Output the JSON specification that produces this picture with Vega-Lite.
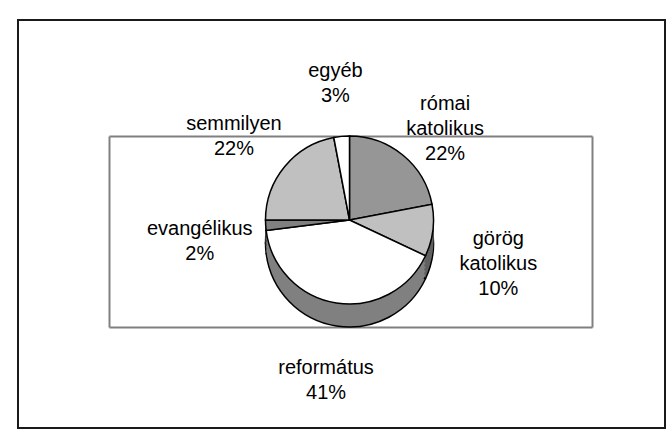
{
  "$schema": "https://vega.github.io/schema/vega-lite/v6.json",
  "width": 647,
  "height": 408,
  "autosize": "none",
  "padding": {"left": 18, "top": 20, "right": 3, "bottom": 5},
  "background": "white",
  "config": {
    "view": {"stroke": "#1a1a1a", "strokeWidth": 2},
    "font": "Liberation Sans"
  },
  "data": {
    "values": [
      {"i": 1, "category": "római katolikus", "percent": 22},
      {"i": 2, "category": "görög katolikus", "percent": 10},
      {"i": 3, "category": "református", "percent": 41},
      {"i": 4, "category": "evangélikus", "percent": 2},
      {"i": 5, "category": "semmilyen", "percent": 22},
      {"i": 6, "category": "egyéb", "percent": 3}
    ]
  },
  "resolve": {"axis": {"x": "independent", "y": "independent"}},
  "layer": [
    {
      "mark": {"type": "point", "opacity": 0},
      "encoding": {
        "x": {"datum": 0, "type": "quantitative", "scale": {"domain": [0, 1], "range": [91, 574]},
              "axis": {"orient": "bottom", "offset": -101, "domain": true, "domainColor": "#808080", "domainWidth": 2, "ticks": false, "labels": false, "grid": false, "title": null}},
        "y": {"datum": 0, "type": "quantitative", "scale": {"domain": [0, 1], "range": [307, 116]},
              "axis": {"orient": "left", "offset": -91, "domain": true, "domainColor": "#808080", "domainWidth": 2, "ticks": false, "labels": false, "grid": false, "title": null}}
      }
    },
    {
      "mark": {"type": "point", "opacity": 0},
      "encoding": {
        "x": {"datum": 0, "type": "quantitative",
              "axis": {"orient": "top", "offset": -116, "domain": true, "domainColor": "#808080", "domainWidth": 2, "ticks": false, "labels": false, "grid": false, "title": null}},
        "y": {"datum": 0, "type": "quantitative",
              "axis": {"orient": "right", "offset": -73, "domain": true, "domainColor": "#808080", "domainWidth": 2, "ticks": false, "labels": false, "grid": false, "title": null}}
      }
    },
    {
      "encoding": {
        "theta": {"field": "percent", "type": "quantitative", "stack": true},
        "order": {"field": "i"}
      },
      "layer": [
        {
          "mark": {"type": "arc", "radius": 84, "xOffset": 8, "yOffset": 19, "stroke": "black", "strokeWidth": 1.5},
          "encoding": {"fill": {"field": "category", "type": "nominal", "legend": null,
            "scale": {"domain": ["római katolikus", "görög katolikus", "református", "evangélikus", "semmilyen", "egyéb"],
                      "range": ["#4b4b4b", "#606060", "#808080", "#404040", "#606060", "#808080"]}}}
        },
        {"mark": {"type": "arc", "radius": 84, "xOffset": 8, "yOffset": 15}, "encoding": {"fill": {"field": "category", "type": "nominal", "legend": null}}},
        {"mark": {"type": "arc", "radius": 84, "xOffset": 8, "yOffset": 11}, "encoding": {"fill": {"field": "category", "type": "nominal", "legend": null}}},
        {"mark": {"type": "arc", "radius": 84, "xOffset": 8, "yOffset": 7}, "encoding": {"fill": {"field": "category", "type": "nominal", "legend": null}}},
        {"mark": {"type": "arc", "radius": 84, "xOffset": 8, "yOffset": 3}, "encoding": {"fill": {"field": "category", "type": "nominal", "legend": null}}},
        {"mark": {"type": "arc", "radius": 84, "xOffset": 8, "yOffset": -1}, "encoding": {"fill": {"field": "category", "type": "nominal", "legend": null}}},
        {
          "mark": {"type": "arc", "radius": 84, "xOffset": 8, "yOffset": -4, "stroke": "black", "strokeWidth": 1.5},
          "encoding": {"color": {"field": "category", "type": "nominal", "legend": null,
            "scale": {"domain": ["római katolikus", "görög katolikus", "református", "evangélikus", "semmilyen", "egyéb"],
                      "range": ["#969696", "#c0c0c0", "#ffffff", "#808080", "#c0c0c0", "#ffffff"]}}}
        },
        {
          "transform": [{"calculate": "replace(datum.category, ' ', '\\n') + '\\n' + datum.percent + '%'", "as": "label"}],
          "mark": {"type": "text", "radius": 150, "xOffset": 8, "yOffset": -4, "font": "Liberation Sans", "fontSize": 20, "lineHeight": 25, "lineBreak": "\n", "fill": "black", "align": "center", "baseline": "middle"},
          "encoding": {"text": {"field": "label", "type": "nominal"}}
        }
      ]
    }
  ]
}
